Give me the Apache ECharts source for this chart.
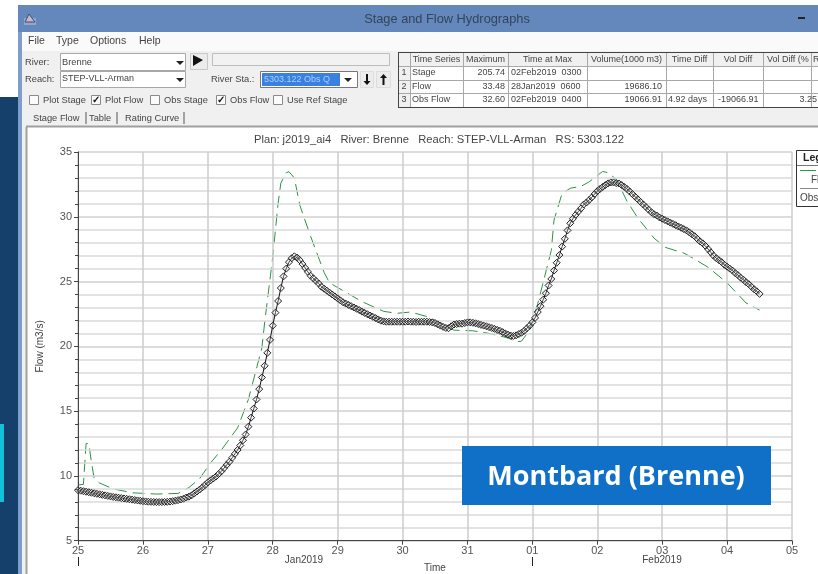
<!DOCTYPE html>
<html><head><meta charset="utf-8">
<style>html,body{margin:0;padding:0;background:#fff}#c{width:818px;height:574px}</style>
<script src="https://cdn.jsdelivr.net/npm/echarts@6/dist/echarts.min.js"></script>
</head><body><div id="c"></div>
<script>
const dayLabels = ['25','26','27','28','29','30','31','01','02','03','04','05'];
const obsJan25 = [8.90,8.86,8.82,8.78,8.74,8.70,8.66,8.62,8.58,8.54,8.50,8.46,8.42,8.38,8.35,8.32,8.29,8.26,8.23,8.20,8.17,8.14,8.11,8.08];
const obsJan26 = [8.05,8.03,8.01,8.00,7.99,7.98,7.98,7.98,7.99,8.00,8.02,8.05,8.09,8.13,8.18,8.24,8.33,8.40,8.50,8.65,8.80,8.95,9.12,9.30];
const obsJan27 = [9.5,9.65,9.8,9.95,10.15,10.35,10.6,10.85,11.1,11.4,11.7,12.0,12.35,12.75,13.2,13.8,14.5,15.2,15.9,16.7,17.6,18.5,19.5,20.5];
const obsJan28 = [21.6,22.6,23.5,24.5,25.4,26.0,26.5,26.8,26.95,26.85,26.65,26.35,26.05,25.75,25.45,25.25,25.05,24.85,24.6,24.45,24.3,24.15,24.0,23.85];
const obsJan29 = [23.7,23.55,23.4,23.3,23.2,23.1,23.0,22.9,22.8,22.68,22.58,22.48,22.38,22.28,22.18,22.08,21.98,21.93,21.9,21.9,21.9,21.9,21.9,21.9];
const obsJan30 = [21.9,21.9,21.92,21.9,21.9,21.88,21.9,21.9,21.9,21.9,21.88,21.85,21.8,21.7,21.6,21.5,21.42,21.4,21.55,21.68,21.72,21.75,21.75,21.8];
const obsJan31 = [21.85,21.85,21.82,21.78,21.72,21.66,21.6,21.55,21.48,21.42,21.35,21.27,21.2,21.1,21.0,20.9,20.83,20.8,20.85,20.95,21.05,21.2,21.4,21.6];
const obsFeb01 = [21.85,22.2,22.65,23.1,23.6,24.1,24.7,25.2,25.85,26.45,27.05,27.7,28.3,28.95,29.5,29.85,30.15,30.4,30.65,30.95,31.1,31.3,31.5,31.75];
const obsFeb02 = [31.98,32.15,32.3,32.45,32.58,32.65,32.65,32.6,32.57,32.45,32.3,32.15,31.95,31.75,31.55,31.35,31.15,30.95,30.75,30.55,30.35,30.2,30.1,29.95];
const obsFeb03 = [29.85,29.75,29.65,29.55,29.45,29.35,29.25,29.15,29.05,28.95,28.8,28.65,28.5,28.3,28.1,27.95,27.75,27.5,27.25,27.0,26.8,26.65,26.5,26.3];
const obsFeb04 = [26.15,26.0,25.85,25.65,25.5,25.3,25.15,24.95,24.8,24.6,24.4,24.25,24.05];
const obsFlow = [].concat(obsJan25,obsJan26,obsJan27,obsJan28,obsJan29,obsJan30,obsJan31,obsFeb01,obsFeb02,obsFeb03,obsFeb04);
const flowHours = [0,2,3,4,5,6,8,13,20,29,37,41,45,49,53,59,63,68,69,72,74,75,77,78,80,82,86,91,93,98,105,113,118,123,129,134,139,146,152,159,162,164,167,170,175,176,179,182,186,189,194,196,199,203,207,213,217,224,227,233,240,247,252];
const flowValues = [9.3,9.35,12.5,12.5,11.0,9.8,9.45,9.0,8.7,8.6,8.65,9.1,9.8,11.0,12.0,13.7,15.9,19.9,21.8,26.9,31.05,32.6,33.4,33.48,33.0,30.9,28.5,25.7,24.9,24.3,23.45,22.7,22.55,22.65,22.3,21.8,21.25,21.2,21.0,20.65,20.35,20.4,21.25,23.3,27.4,29.75,31.8,32.2,32.35,32.7,33.5,33.4,32.9,31.2,29.9,28.35,27.65,27.2,26.85,26.1,24.9,23.35,22.8];

const menuItems = ['File','Type','Options','Help'];
const plotTitle = 'Plan: j2019_ai4   River: Brenne   Reach: STEP-VLL-Arman   RS: 5303.122';
const tableHead = ['Time Series','Maximum','Time at Max','Volume(1000 m3)','Time Diff','Vol Diff','Vol Diff (%','R'];
const tableRow1 = ['Stage','205.74','02Feb2019  0300','','','',''];
const tableRow2 = ['Flow','33.48','28Jan2019  0600','19686.10','','',''];
const tableRow3 = ['Obs Flow','32.60','02Feb2019  0400','19066.91','4.92 days','-19066.91','3.25'];
const checkNames = ['Plot Stage','Plot Flow','Obs Stage','Obs Flow','Use Ref Stage'];
const checkStates = [false,true,false,true,false];
const tabNames = ['Stage Flow','Table','Rating Curve'];

const UI = 'Liberation Sans, Arial, sans-serif';
const g = [];
function rect(x,y,w,h,fill,stroke,z){g.push({type:'rect',shape:{x,y,width:w,height:h},style:{fill:fill||'transparent',stroke:stroke||null,lineWidth:1},z:z||1,silent:true});}
function line(x1,y1,x2,y2,c,w,z){g.push({type:'line',shape:{x1,y1,x2,y2},style:{stroke:c,lineWidth:w||1},z:z||2,silent:true});}
function text(s,x,y,o){o=o||{};g.push({type:'text',x,y,style:{text:s,fill:o.c||'#444',font:(o.b?(o.b===true?'bold':o.b)+' ':'')+(o.s||9.3)+'px '+(o.f||UI),textAlign:o.a||'left',textVerticalAlign:'middle'},z:o.z||3,silent:true});}
function tri(x,y,w,h,c){g.push({type:'polygon',shape:{points:[[x,y],[x+w,y],[x+w/2,y+h]]},style:{fill:c},z:3,silent:true});}
function arrow(cx,top,bot,dir){const a=dir>0?bot:top,b=dir>0?top:bot,m=a-dir*4;
  g.push({type:'polygon',shape:{points:[[cx-1,b],[cx+1,b],[cx+1,m],[cx+3.5,m],[cx,a],[cx-3.5,m],[cx-1,m]]},style:{fill:'#111'},z:3,silent:true});}

// page side panel
rect(0,97,18,477,'#16406c');
rect(0,424,4,78,'#12c3d8',null,2);
// window
rect(18,5,800,27,'#6488bb');
rect(18,32,800,542,'#f0f0f0');
rect(18,32,4,542,'#7f9dcb',null,2);
rect(22,32,796,19,'#fafafa');
rect(24,18,12,7,'#8fa7cc',null,2);
g.push({type:'polygon',shape:{points:[[25,22],[29,14],[32,18],[35,22]]},style:{fill:'#c8b8c8',stroke:'#4a4a6a'},z:3,silent:true});
text('Stage and Flow Hydrographs',447,19,{a:'center',s:12.8,c:'#33445c'});
line(798,18,805,18,'#222',2);
// menu
[28,56,90,139].forEach((x,i)=>text(menuItems[i],x,41,{s:10.5}));
// combos
text('River:',25,62);
text('Reach:',25,79);
rect(60.5,53.5,125,17,'#fff','#a8a8a8');
rect(60.5,71.5,125,16,'#fff','#a8a8a8');
text('Brenne',62,62);
text('STEP-VLL-Arman',62,79,{s:9});
tri(176,61,8,4,'#222');tri(176,78,8,4,'#222');
rect(190.5,53.5,17,16,'#ececec','#c8c8c8');
g.push({type:'polygon',shape:{points:[[193,55],[193,66],[203,60]]},style:{fill:'#111'},z:3,silent:true});
rect(212.5,53.5,177,12,'#f2f2f2','#bdbdbd');
text('River Sta.:',211,79);
rect(260.5,71.5,97,16,'#fff','#777');
rect(262,73,78,13,'#3a80e0',null,2);
text('5303.122 Obs Q',264,80,{s:9,c:'#a8d0ff'});
tri(344,78,8,4,'#222');
rect(360.5,71.5,13,16,'#ececec','#ddd');
rect(376.5,71.5,14,16,'#ececec','#ddd');
arrow(367,74,85,1);
arrow(383.5,74,85,-1);
// checks
[29,91,150,216,273].forEach((x,i)=>{
  rect(x+.5,95.5,9,9,'#fbfbfb','#8a8a8a');
  if(checkStates[i]) text('\u2713',x+5,100,{a:'center',b:true,s:10,c:'#111'});
  text(checkNames[i],x+14,100);
});
// tabs
[33,89,125].forEach((x,i)=>text(tabNames[i],x,118.5));
[86,117,184].forEach(x=>line(x,112,x,124,'#555',1));
// result table
const cols=[398,410,463,508,587,666,713,763,811];
const rows=[52,66,80,93,107];
rect(398,52,420,55,'#fff');
rect(398,52,420,14,'#f0f0f0',null,1);
rect(398,52,12,55,'#f0f0f0',null,1);
cols.forEach(x=>line(x+.5,52,x+.5,107,'#a8a8a8',1));
rows.forEach(y=>line(398,y+.5,818,y+.5,'#a8a8a8',1));
line(398,52.5,818,52.5,'#444',1);line(398,107.5,818,107.5,'#444',1);line(398.5,52,398.5,107,'#444',1);
const hx=[436.5,485.5,547.5,626.5,689.5,738,767,813];
tableHead.forEach((t,i)=>text(t,hx[i],59.5,{s:9,a:i<6?'center':'left'}));
[tableRow1,tableRow2,tableRow3].forEach((r,j)=>{
  const y=[73,87,100][j];
  const o={s:9};
  text(String(j+1),404,y,{s:9,a:'center'});
  text(r[0],412,y,o);
  text(r[1],505,y,{s:9,a:'right'});
  text(r[2],511,y,o);
  text(r[3],662,y,{s:9,a:'right'});
  text(r[4],668,y,o);
  text(r[5],718,y,o);
  text(r[6],817,y,{s:9,a:'right'});
});
// chart frame
rect(26,127,792,447,'#fff');
line(26,126.5,818,126.5,'#a0a0a0',2);
line(26.5,127,26.5,574,'#a0a0a0',2);
// legend (clipped by the picture edge)
rect(796.5,150.5,30,56,'#fff','#333',6);
line(797,165.5,818,165.5,'#777',1,7);
line(800,170.5,816,170.5,'#2a9a48',1,7);
line(800,188.5,818,188.5,'#888',1,7);
text('Leg',803,158,{b:true,s:10.5,c:'#222',z:7});
text('Fl',811,180,{s:10,z:7});
text('Obs',800,198,{s:10,z:7});
// date captions and long ticks
text('Jan2019',304,560,{a:'center',s:10});
text('Feb2019',662,560,{a:'center',s:10});
line(78.5,557,78.5,566,'#222',1);
line(532.5,557,532.5,566,'#222',1);
// place label
rect(462,446,309,59,'#1070c8',null,8);
text('Montbard (Brenne)',616,477,{a:'center',b:true,s:27,c:'#fff',f:'"Open Sans", "Noto Sans", sans-serif',z:9});

const chart = echarts.init(document.getElementById('c'),null,{renderer:'canvas'});
chart.setOption({
  animation:false,
  backgroundColor:'#fff',
  title:{text:plotTitle,left:434,top:129,textAlign:'center',textStyle:{fontFamily:UI,fontSize:11.2,fontWeight:'normal',color:'#444'},z:5},
  grid:{left:78,right:26,top:152,bottom:33.3,containLabel:false,outerBoundsMode:'none',z:4},
  xAxis:{type:'value',min:0,max:264,interval:24,z:5,
    name:'Time',nameLocation:'middle',nameGap:23,nameTextStyle:{fontFamily:UI,fontSize:10,color:'#444'},
    axisLine:{show:true,lineStyle:{color:'#444',width:1}},
    axisTick:{show:true,length:4,lineStyle:{color:'#444'}},
    axisLabel:{fontFamily:UI,fontSize:11,color:'#555',margin:5,showMaxLabel:true,showMinLabel:true,formatter:v=>dayLabels[v/24]},
    splitLine:{show:true,lineStyle:{color:'#cccccc',width:1.5}}},
  yAxis:{type:'value',min:5,max:35,interval:5,z:5,
    name:'Flow (m3/s)',nameLocation:'middle',nameGap:33,nameTextStyle:{fontFamily:UI,fontSize:10,color:'#444'},
    axisLine:{show:true,onZero:false,lineStyle:{color:'#444',width:1}},
    axisTick:{show:true,length:4,lineStyle:{color:'#444'}},
    minorTick:{show:true,splitNumber:5,length:3,lineStyle:{color:'#444'}},
    axisLabel:{fontFamily:UI,fontSize:11,color:'#555',margin:6,verticalAlignMinLabel:'middle',verticalAlignMaxLabel:'middle'},
    splitLine:{show:true,lineStyle:{color:'#d0d0d0',width:1.5}},
    minorSplitLine:{show:true,lineStyle:{color:'#dadada',width:1.5}}},
  series:[
    {name:'Flow',type:'line',z:4,showSymbol:false,symbol:'none',smooth:false,silent:true,
     data:flowHours.map((h,i)=>[h,flowValues[i]]),
     lineStyle:{color:'#2a9448',width:1,type:[12,6]}},
    {name:'Obs Flow',type:'line',z:5,silent:true,symbol:'diamond',symbolSize:7,showSymbol:true,showAllSymbol:true,
     data:obsFlow.map((v,i)=>[i,v]),
     lineStyle:{color:'#111',width:1},
     itemStyle:{color:'rgba(220,220,220,0.25)',borderColor:'#222',borderWidth:1}}
  ],
  graphic:{elements:g}
});
</script></body></html>
